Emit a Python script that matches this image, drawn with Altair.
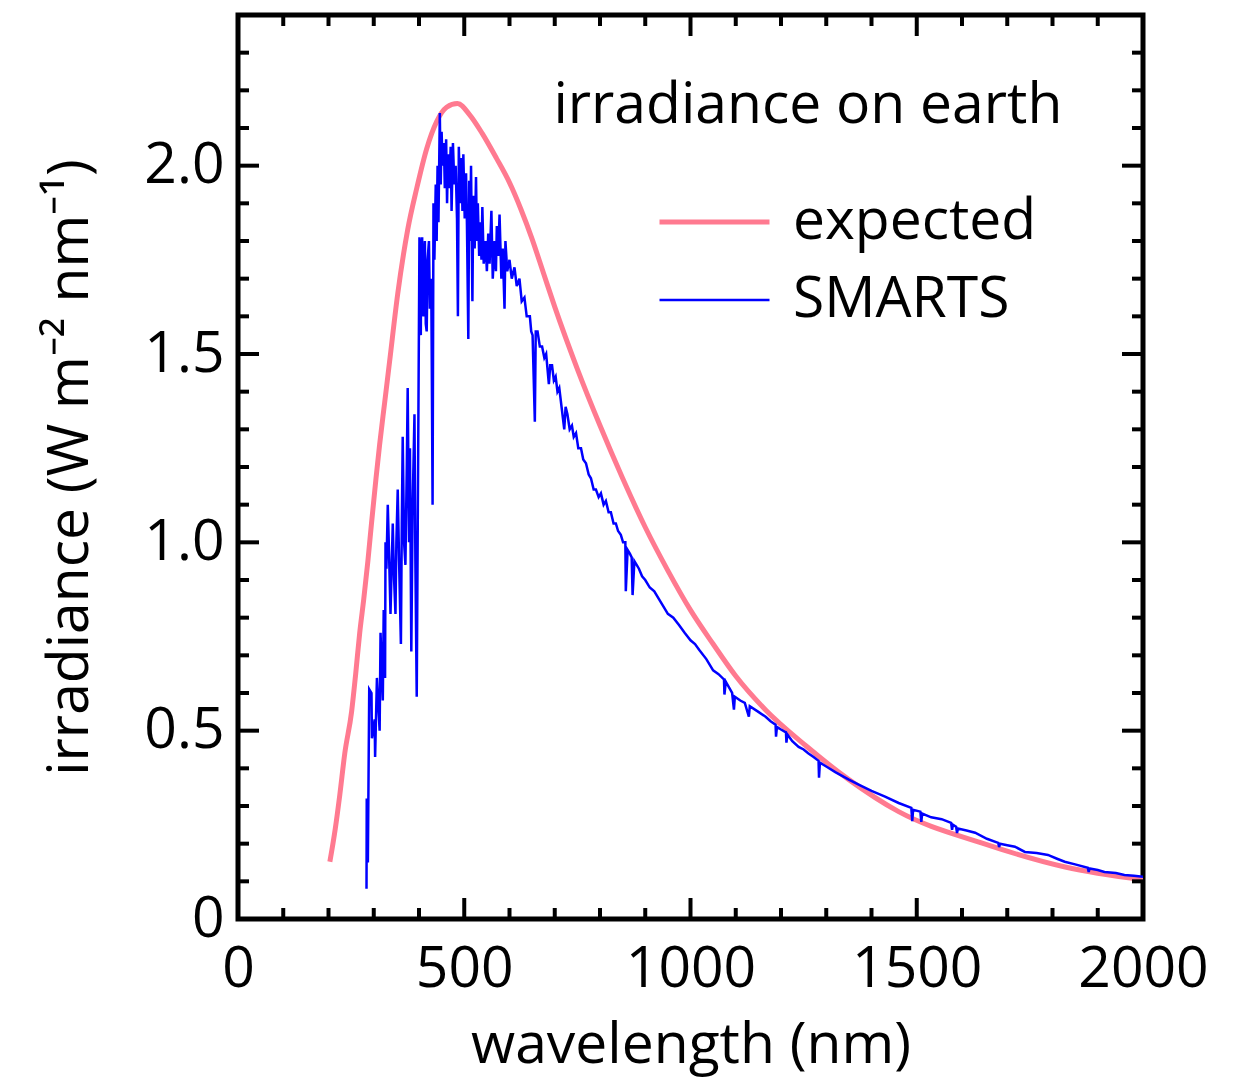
import altair as alt
import pandas as pd

# ---------------- data ----------------
series_names = ["expected", "SMARTS"]
series_colors = ["#FF7A90", "#0000FF"]
series_widths = [5, 2.5]

expected_points = [
    (203, 0.152), (215, 0.24), (225, 0.33), (236, 0.44), (251, 0.55), (260, 0.65),
    (269, 0.76), (278, 0.85), (287, 0.95), (295, 1.05), (305, 1.17), (313, 1.26),
    (324, 1.37), (335, 1.48), (353, 1.66), (375, 1.83), (395, 1.94), (417, 2.045),
    (439, 2.117), (461, 2.155), (485, 2.165), (512, 2.135), (540, 2.085), (571, 2.02),
    (600, 1.955), (625, 1.885), (650, 1.805), (675, 1.715), (700, 1.625), (750, 1.46),
    (800, 1.31), (850, 1.17), (900, 1.04), (950, 0.925), (1000, 0.82), (1050, 0.73),
    (1100, 0.645), (1166, 0.555), (1255, 0.46), (1350, 0.370), (1460, 0.285),
    (1643, 0.202), (1828, 0.138), (2000, 0.104),
]

smarts_points = [
    (284, 0.08), (284.5, 0.32), (287, 0.15), (290, 0.61), (295, 0.60), (296, 0.48),
    (302, 0.53), (303, 0.43), (307, 0.64), (313, 0.50), (315, 0.76), (320, 0.58),
    (322, 0.82), (325, 0.64), (326, 1.00), (328, 0.93), (331, 1.10), (333, 1.01),
    (337, 0.81), (342, 1.05), (345, 0.90), (348, 0.81), (350, 1.00), (353, 1.14),
    (356, 0.95), (360, 0.73), (362, 1.05), (364, 1.28), (367, 1.00), (370, 0.94),
    (373, 1.20), (375, 1.41), (378, 1.00), (380, 1.25), (383, 0.71), (386, 1.10),
    (390, 1.34), (392, 0.95), (395, 0.59), (398, 1.20), (401, 1.81), (402, 1.60),
    (404, 1.55), (405, 1.78), (407, 1.81), (408, 1.62), (410, 1.60), (411, 1.76),
    (413, 1.80), (415, 1.58), (417, 1.56), (419, 1.75), (422, 1.80), (424, 1.62),
    (427, 1.70), (428, 1.52), (430, 1.10), (432, 1.90), (434, 1.75), (437, 1.95),
    (439, 1.80), (441, 2.00), (443, 1.85), (446, 2.14), (448, 1.95), (450, 2.09),
    (452, 2.00), (455, 2.06), (457, 1.94), (460, 2.07), (462, 1.90), (464, 2.03),
    (467, 1.94), (470, 2.05), (472, 1.88), (475, 2.06), (478, 1.95), (481, 2.00),
    (484, 1.86), (486, 1.60), (488, 2.05), (491, 1.90), (494, 2.02), (496, 1.88),
    (498, 2.03), (501, 1.86), (504, 1.98), (506, 1.84), (509, 1.54), (511, 1.96),
    (513, 1.80), (515, 2.00), (518, 1.64), (520, 1.92), (523, 1.78), (526, 1.97),
    (528, 1.80), (530, 1.90), (533, 1.76), (536, 1.85), (538, 1.75), (540, 1.89),
    (543, 1.74), (547, 1.80), (550, 1.72), (553, 1.82), (556, 1.74), (560, 1.88),
    (563, 1.70), (567, 1.80), (570, 1.72), (572, 1.84), (575, 1.76), (578, 1.87),
    (582, 1.70), (585, 1.78), (589, 1.62), (591, 1.80), (595, 1.72), (600, 1.75),
    (605, 1.70), (611, 1.73), (616, 1.68), (622, 1.70), (627, 1.64), (633, 1.65),
    (638, 1.60), (645, 1.60), (648, 1.56), (651, 1.55), (656, 1.32), (658, 1.56),
    (662, 1.56), (667, 1.52), (672, 1.52), (677, 1.49), (681, 1.50), (687, 1.42),
    (690, 1.47), (694, 1.47), (698, 1.43), (702, 1.44), (706, 1.40), (710, 1.41),
    (715, 1.36), (721, 1.30), (724, 1.36), (728, 1.34), (733, 1.30), (738, 1.31),
    (742, 1.28), (747, 1.29), (752, 1.25), (758, 1.25), (763, 1.22), (769, 1.21),
    (775, 1.18), (780, 1.17), (786, 1.14), (791, 1.14), (797, 1.12), (802, 1.13),
    (808, 1.10), (813, 1.11), (819, 1.08), (824, 1.08), (830, 1.05), (835, 1.05),
    (840, 1.03), (846, 1.02), (851, 1.00), (856, 1.00), (857, 0.87), (861, 0.98),
    (866, 0.97), (870, 0.96), (872, 0.86), (876, 0.95), (881, 0.94), (886, 0.93),
    (893, 0.91), (900, 0.90), (910, 0.88), (920, 0.87), (930, 0.85), (940, 0.83),
    (950, 0.81), (962, 0.80), (975, 0.78), (987, 0.76), (1000, 0.74), (1010, 0.73),
    (1019, 0.715), (1035, 0.69), (1050, 0.66), (1062, 0.65), (1074, 0.636),
    (1075, 0.596), (1078, 0.63), (1092, 0.60), (1096, 0.556), (1098, 0.59),
    (1110, 0.58), (1120, 0.574), (1129, 0.537), (1131, 0.565), (1150, 0.55),
    (1166, 0.537), (1177, 0.525), (1188, 0.516), (1189, 0.484), (1191, 0.51),
    (1200, 0.503), (1211, 0.495), (1212, 0.468), (1214, 0.49), (1225, 0.472),
    (1239, 0.457), (1250, 0.45), (1260, 0.44), (1272, 0.43), (1283, 0.42),
    (1284, 0.375), (1286, 0.415), (1300, 0.405), (1320, 0.39), (1335, 0.38),
    (1350, 0.37), (1375, 0.355), (1400, 0.34), (1430, 0.325), (1460, 0.308),
    (1488, 0.295), (1490, 0.26), (1492, 0.29), (1508, 0.285), (1510, 0.258),
    (1512, 0.28), (1532, 0.27), (1555, 0.265), (1576, 0.255), (1578, 0.237),
    (1580, 0.25), (1587, 0.245), (1589, 0.228), (1591, 0.24), (1610, 0.235),
    (1629, 0.229), (1655, 0.213), (1680, 0.202), (1682, 0.191), (1684, 0.20),
    (1700, 0.196), (1717, 0.192), (1739, 0.178), (1765, 0.175), (1790, 0.170),
    (1810, 0.160), (1827, 0.152), (1850, 0.145), (1878, 0.136), (1880, 0.125),
    (1882, 0.134), (1900, 0.130), (1915, 0.125), (1940, 0.122), (1959, 0.117),
    (1980, 0.115), (2000, 0.112),
]

x_major = [0, 500, 1000, 1500, 2000]
x_minor = [100, 200, 300, 400, 600, 700, 800, 900, 1100, 1200, 1300, 1400,
           1600, 1700, 1800, 1900]
y_major = [0, 0.5, 1.0, 1.5, 2.0]
y_minor = [0.1, 0.2, 0.3, 0.4, 0.6, 0.7, 0.8, 0.9, 1.1, 1.2, 1.3, 1.4,
           1.6, 1.7, 1.8, 1.9, 2.1, 2.2, 2.3]

annotation_text = ["irradiance on earth"]
annotation_wl = [697]
annotation_irr = [2.158]

X_MAX = 2000
Y_MAX = 2.4

# ---------------- layout ----------------
W, H = 905, 904
FONT = "Open Sans"
FS = 57
MAJOR_PX, MINOR_PX = 21, 11
px_x = X_MAX / W
px_y = Y_MAX / H

rows = []
for name, pts in (("expected", expected_points), ("SMARTS", smarts_points)):
    for i, (w, v) in enumerate(pts):
        rows.append({"series": name, "wavelength": w, "irradiance": v, "idx": i})
df = pd.DataFrame(rows)

# tick tables (inward ticks on all four sides)
xt = []
for vals, ln in ((x_major, MAJOR_PX), (x_minor, MINOR_PX)):
    for v in vals:
        xt.append({"x": v, "y": 0, "y2": ln * px_y})
        xt.append({"x": v, "y": Y_MAX, "y2": Y_MAX - ln * px_y})
yt = []
for vals, ln in ((y_major, MAJOR_PX), (y_minor, MINOR_PX)):
    for v in vals:
        yt.append({"y": v, "x": 0, "x2": ln * px_x})
        yt.append({"y": v, "x": X_MAX, "x2": X_MAX - ln * px_x})

xs = alt.Scale(domain=[0, X_MAX], nice=False, zero=False)
ys = alt.Scale(domain=[0, Y_MAX], nice=False, zero=False)

legend = alt.Legend(
    title=None, orient="none", legendX=419, legendY=168,
    symbolType="stroke", symbolSize=12100, labelFont=FONT, labelFontSize=FS,
    labelColor="black", labelOffset=21, rowPadding=0, clipHeight=78, labelLimit=0,
)

enc = dict(
    x=alt.X("wavelength:Q", scale=xs,
            axis=alt.Axis(values=x_major, title="wavelength (nm)", format="d",
                          labelPadding=22, titlePadding=20, labelFlush=False,
                          labelOverlap=False, labelBound=False)),
    y=alt.Y("irradiance:Q", scale=ys,
            axis=alt.Axis(values=y_major, title="irradiance (W m⁻² nm⁻¹)",
                          labelExpr="datum.value == 0 ? '0' : format(datum.value, '.1f')",
                          labelPadding=14, titlePadding=44, labelFlush=False,
                          labelOverlap=False)),
    color=alt.Color("series:N", scale=alt.Scale(domain=series_names, range=series_colors),
                    legend=legend),
    strokeWidth=alt.StrokeWidth("series:N",
                                scale=alt.Scale(domain=series_names, range=series_widths),
                                legend=legend),
    order="idx:Q",
)

expected_line = alt.Chart(df).transform_filter(
    alt.datum.series == "expected").mark_line(interpolate="monotone", clip=True).encode(**enc)
smarts_line = alt.Chart(df).transform_filter(
    alt.datum.series == "SMARTS").mark_line(clip=True).encode(**enc)

xticks = alt.Chart(pd.DataFrame(xt)).mark_rule(color="black", strokeWidth=4).encode(
    x=alt.X("x:Q", scale=xs), y=alt.Y("y:Q", scale=ys), y2="y2:Q")
yticks = alt.Chart(pd.DataFrame(yt)).mark_rule(color="black", strokeWidth=4).encode(
    y=alt.Y("y:Q", scale=ys), x=alt.X("x:Q", scale=xs), x2="x2:Q")

annot = alt.Chart(pd.DataFrame({"t": annotation_text, "x": annotation_wl,
                                "y": annotation_irr})).mark_text(
    align="left", baseline="middle", font=FONT, fontSize=FS, color="black").encode(
    x=alt.X("x:Q", scale=xs), y=alt.Y("y:Q", scale=ys), text="t:N")

chart = alt.layer(expected_line, smarts_line, xticks, yticks, annot).properties(
    width=W, height=H,
    padding={"left": 238, "top": 15, "right": 92, "bottom": 162},
    autosize=alt.AutoSizeParams(type="none"),
).configure_view(stroke="black", strokeWidth=5).configure_axis(
    domain=False, ticks=False, grid=False,
    labelFont=FONT, labelFontSize=FS, labelColor="black",
    titleFont=FONT, titleFontSize=FS, titleColor="black", titleFontWeight="normal",
)

chart.save("out.html", embed_options={"renderer": "svg", "actions": False})
